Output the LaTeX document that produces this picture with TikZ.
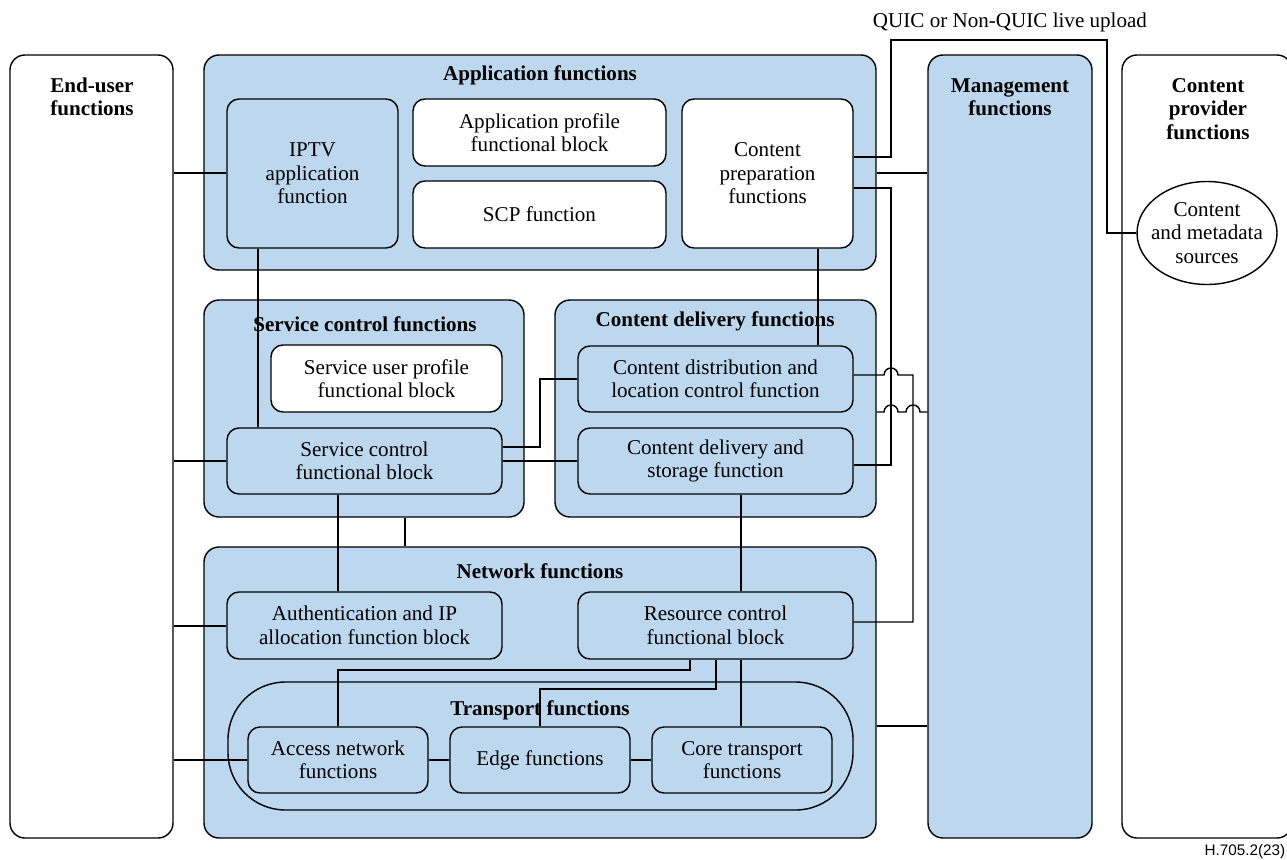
\documentclass[tikz,border=0pt]{standalone}
\usepackage{fontspec}
\setmainfont{Liberation Serif}
\newfontfamily\footfont{Liberation Sans}
\usetikzlibrary{fit,shapes.geometric}
\definecolor{cblue}{RGB}{189,215,238}
\newcommand{\mybox}[5]{\node[#1, fit={(#3) (#4)}] (#2) {}; \node (#2-t) at (#2.center) {#5};}
\begin{document}
\begin{tikzpicture}[x=0.02cm,y=-0.02cm, line width=0.8pt,
 every node/.style={font=\fontsize{12}{13.4}\selectfont, align=center},
 bb/.style={draw, fill=cblue, rounded corners=0.3cm, inner sep=0pt},
 wb/.style={draw, fill=white, rounded corners=0.3cm, inner sep=0pt},
 sb/.style={draw, fill=cblue, rounded corners=0.24cm, inner sep=0pt},
 swb/.style={draw, fill=white, rounded corners=0.24cm, inner sep=0pt},
 tb/.style={draw, fill=cblue, rounded corners=1.15cm, inner sep=0pt},
 ttl/.style={font=\bfseries\fontsize{12}{13.4}\selectfont},
 ]
\useasboundingbox (0,0) rectangle (1287,859);
\foreach \h in {40,157,173,188,233,375,379,412,447,461,465,622,626,670,689,726,760}
  \coordinate (h\h) at (0,\h);
\foreach \v in {258,338,405,540,690,716,741,818,884,891,906,913,1107}
  \coordinate (v\v) at (\v,0);

% big containers
\node[wb, fit={(10,55) (173,838)}] (eu) {};
\node[ttl] (eut) at (92,97) {End-user\\functions};
\node[bb, fit={(204,55) (876,270)}] (app) {};
\node[ttl] (appt) at (540,75) {Application functions};
\node[bb, fit={(928,55) (1092,838)}] (mgmt) {};
\node[ttl] (mgmtt) at (1010,97) {Management\\functions};
\node[wb, fit={(1122,55) (1292,838)}] (cp) {};
\node[ttl] (cpt) at (1208,109) {Content\\provider\\functions};
\node[draw, fill=white, ellipse, inner sep=0pt, minimum width=2.8cm, minimum height=2.06cm] (src) at (1207,233) {};
\node (src-t) at (src.center) {Content\\and metadata\\sources};
\node[bb, fit={(204,300) (524,517)}] (svc) {};
\node[ttl] (svct) at (365,324) {Service control functions};
\node[bb, fit={(555,300) (876,517)}] (cdf) {};
\node[ttl] (cdft) at (715,321) {Content delivery functions};
\node[bb, fit={(204,547) (876,838)}] (net) {};
\node[ttl] (nett) at (540,571) {Network functions};

% inner boxes
\mybox{sb}{iptv}{227,99}{398,248}{IPTV\\application\\function}
\mybox{swb}{aprof}{413,99}{666,166}{Application profile\\functional block}
\mybox{swb}{scp}{413,181}{666,248}{SCP function}
\mybox{swb}{cprep}{682,99}{853,248}{Content\\preparation\\functions}
\mybox{swb}{sup}{271,345}{502,412}{Service user profile\\functional block}
\mybox{sb}{scfb}{227,428}{502,494}{Service control\\functional block}
\mybox{sb}{cdlc}{578,346}{853,412}{Content distribution and\\location control function}
\mybox{sb}{cds}{578,428}{853,494}{Content delivery and\\storage function}
\mybox{sb}{auth}{227,592}{502,659}{Authentication and IP\\allocation function block}
\mybox{sb}{rc}{578,592}{853,659}{Resource control\\functional block}
\node[tb, fit={(228,682) (853,810)}] (tr) {};
\mybox{sb}{acc}{248,727}{428,793}{Access network\\functions}
\mybox{sb}{edge}{450,727}{630,793}{Edge functions}
\mybox{sb}{core}{652,727}{832,793}{Core transport\\functions}

% connectors
\draw (eu.east|-h173) -- (iptv.west|-h173);
\draw (eu.east|-h461) -- (scfb.west|-h461);
\draw (eu.east|-h626) -- (auth.west|-h626);
\draw (eu.east|-h760) -- (acc.west|-h760);
\draw (iptv.south-|v258) -- (scfb.north-|v258);
\draw (cprep.south-|v818) -- (cdlc.north-|v818);
\draw (scfb.south-|v338) -- (auth.north-|v338);
\draw (svc.south-|v405) -- (net.north-|v405);
\draw (cds.south-|v741) -- (rc.north-|v741);
\draw (scfb.east|-h447) -- (v540|-h447) -- (v540|-h379) -- (cdlc.west|-h379);
\draw (scfb.east|-h461) -- (cds.west|-h461);
\draw (app.east|-h173) -- (mgmt.west|-h173);
\draw (net.east|-h726) -- (mgmt.west|-h726);
\draw (cprep.east|-h157) -- (v891|-h157) -- (v891|-h40) -- (v1107|-h40) -- (v1107|-h233) -- (src.west);
\draw (cprep.east|-h188) -- (v891|-h188) -- (v891|-h465) -- (cds.east|-h465);
\draw (cdlc.east|-h375) -- (v884|-h375) arc[start angle=180,end angle=0,radius=0.14cm] -- (v913|-h375) -- (v913|-h622) -- (rc.east|-h622);
\draw (cdf.east|-h412) -- (v884|-h412) arc[start angle=180,end angle=0,radius=0.14cm] -- (v906|-h412) arc[start angle=180,end angle=0,radius=0.14cm] -- (mgmt.west|-h412);
\draw (rc.south-|v690) -- (v690|-h670) -- (v338|-h670) -- (acc.north-|v338);
\draw (rc.south-|v716) -- (v716|-h689) -- (v540|-h689) -- (edge.north-|v540);
\draw (rc.south-|v741) -- (core.north-|v741);
\draw (acc.east|-h760) -- (edge.west|-h760);
\draw (edge.east|-h760) -- (core.west|-h760);

\node[ttl] (trt) at (540,710) {Transport functions};
\node (quic) at (1010,22) {QUIC or Non-QUIC live upload};
\node[anchor=east, font=\footfont\fontsize{8.7}{10}\selectfont, inner sep=0pt] (foot) at (1286,852) {H.705.2(23)};
\end{tikzpicture}
\end{document}
